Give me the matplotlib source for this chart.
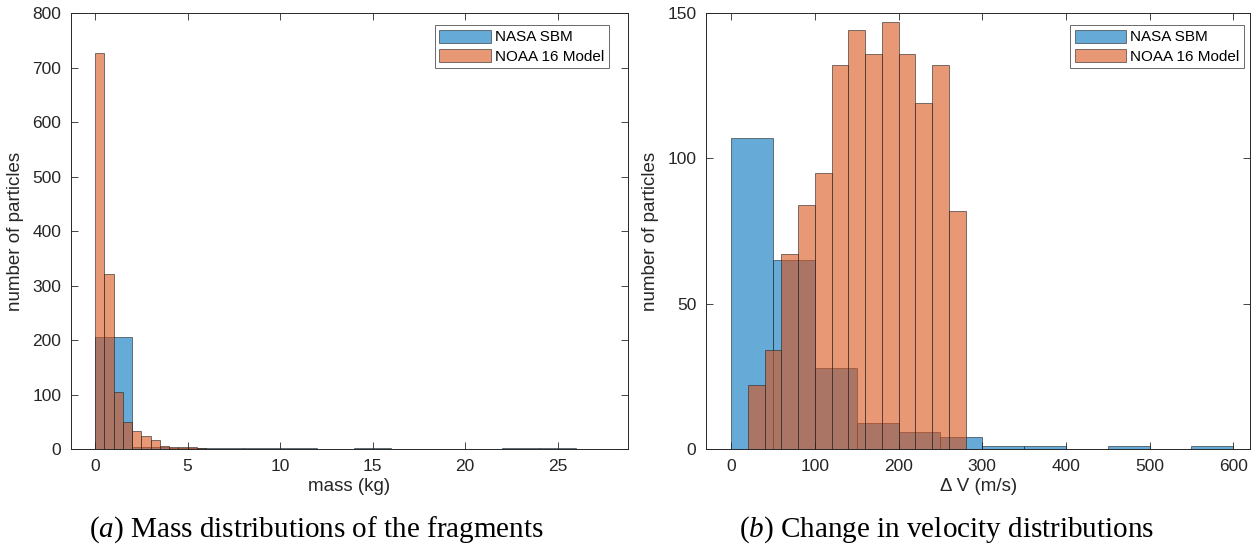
import numpy as np
import matplotlib
matplotlib.use("Agg")
import matplotlib.pyplot as plt
from matplotlib.patches import Patch

# ---------------- data ----------------
series_names = ["NASA SBM", "NOAA 16 Model"]

# (a) mass distributions (kg)
mass_nasa_start = 0.0
mass_nasa_width = 2.0
mass_nasa_counts = [205, 3, 2, 1, 1, 1, 0, 2, 0, 0, 0, 1, 1, 0]

mass_noaa_start = 0.0
mass_noaa_width = 0.5
mass_noaa_counts = [726, 322, 105, 50, 33, 23, 17, 5, 4, 3, 3, 2]

# (b) delta-V distributions (m/s)
dv_nasa_start = 0
dv_nasa_width = 50
dv_nasa_counts = [107, 65, 28, 9, 6, 4, 1, 1, 0, 1, 0, 1]

dv_noaa_start = 20
dv_noaa_width = 20
dv_noaa_counts = [22, 34, 67, 84, 95, 132, 144, 136, 147, 136, 119, 132, 82]

mass_xticks = [0, 5, 10, 15, 20, 25]
mass_yticks = [0, 100, 200, 300, 400, 500, 600, 700, 800]
dv_xticks = [0, 100, 200, 300, 400, 500, 600]
dv_yticks = [0, 50, 100, 150]

# ---------------- style ----------------
plt.rcParams['font.family'] = ['Liberation Sans', 'DejaVu Sans']
plt.rcParams['mathtext.fontset'] = 'custom'
plt.rcParams['mathtext.it'] = 'Liberation Serif:italic'
plt.rcParams['mathtext.rm'] = 'Liberation Serif'
BLUE = (0.0, 0.447, 0.741)
ORANGE = (0.85, 0.325, 0.098)
EDGE = (0.15, 0.15, 0.15)
TXT = (0.15, 0.15, 0.15)
ALPHA = 0.6

fig = plt.figure(figsize=(12.57, 5.5), dpi=100)
ax1 = fig.add_axes([0.0565, 0.1836, 0.4431, 0.7927])
ax2 = fig.add_axes([0.5617, 0.1836, 0.4328, 0.7927])


def draw_hist(ax, start, width, counts, color):
    counts = np.asarray(counts, dtype=float)
    lefts = start + width * np.arange(len(counts))
    ax.bar(lefts, counts, width=width, align='edge', color=color,
           alpha=ALPHA, edgecolor=EDGE, linewidth=0.7)


def style(ax, xticks, yticks, xlim, ylim, xlabel, leg_anchor):
    ax.set_xlim(*xlim)
    ax.set_ylim(*ylim)
    ax.set_xticks(xticks)
    ax.set_yticks(yticks)
    ax.tick_params(direction='in', top=True, right=True, length=5,
                   width=0.6, colors=TXT, labelsize=12.5, pad=7)
    for s in ax.spines.values():
        s.set_color(TXT)
        s.set_linewidth(0.7)
    ax.set_xlabel(xlabel, fontsize=13.5, color=TXT, labelpad=3)
    ax.set_ylabel("number of particles", fontsize=13.5, color=TXT, labelpad=6)
    handles = [Patch(facecolor=BLUE, alpha=ALPHA, edgecolor=EDGE, linewidth=0.7),
               Patch(facecolor=ORANGE, alpha=ALPHA, edgecolor=EDGE, linewidth=0.7)]
    leg = ax.legend(handles, series_names, loc='upper right',
                    bbox_to_anchor=leg_anchor, fontsize=11,
                    frameon=True, fancybox=False, edgecolor=TXT,
                    handlelength=3.4, handleheight=0.9, handletextpad=0.25,
                    borderpad=0.3, labelspacing=0.3, borderaxespad=0.0)
    leg.get_frame().set_linewidth(0.6)


draw_hist(ax1, mass_nasa_start, mass_nasa_width, mass_nasa_counts, BLUE)
draw_hist(ax1, mass_noaa_start, mass_noaa_width, mass_noaa_counts, ORANGE)
style(ax1, mass_xticks, mass_yticks, (-1.3, 28.8), (0, 800), "mass (kg)",
      (0.966, 0.972))

draw_hist(ax2, dv_nasa_start, dv_nasa_width, dv_nasa_counts, BLUE)
draw_hist(ax2, dv_noaa_start, dv_noaa_width, dv_noaa_counts, ORANGE)
style(ax2, dv_xticks, dv_yticks, (-30, 620), (0, 150), "Δ V (m/s)",
      (0.989, 0.972))

# captions
cap_kw = dict(fontsize=21, ha='center', va='center', family='Liberation Serif')
fig.text(0.252, 0.037, "$\\it{(a)}$ Mass distributions of the fragments",
         **cap_kw)
fig.text(0.753, 0.037, "$\\it{(b)}$ Change in velocity distributions",
         **cap_kw)

fig.savefig("out.png", dpi=100)
